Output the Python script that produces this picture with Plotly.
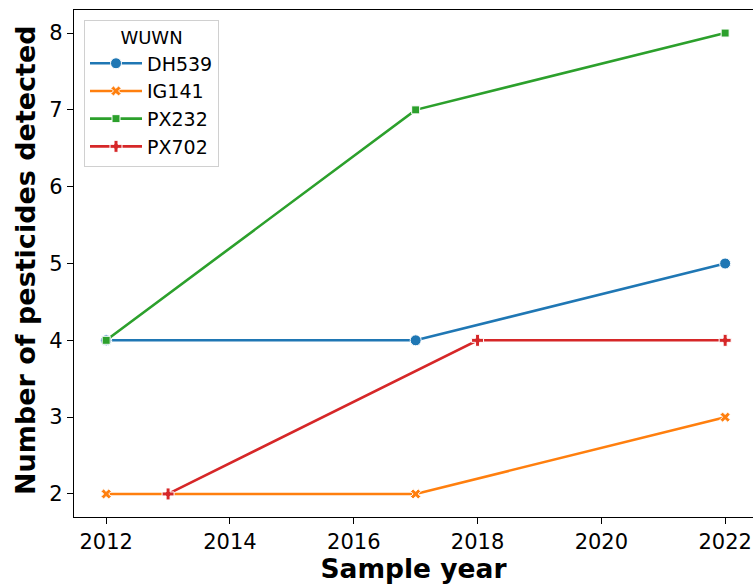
import plotly.graph_objects as go

series_names = ["DH539", "IG141", "PX232", "PX702"]
years = {
    "DH539": [2012, 2017, 2022],
    "IG141": [2012, 2017, 2022],
    "PX232": [2012, 2017, 2022],
    "PX702": [2013, 2018, 2022],
}
counts = {
    "DH539": [4, 4, 5],
    "IG141": [2, 2, 3],
    "PX232": [4, 7, 8],
    "PX702": [2, 4, 4],
}
x_ticks = [2012, 2014, 2016, 2018, 2020, 2022]
y_ticks = [2, 3, 4, 5, 6, 7, 8]
colors = ["#1f77b4", "#ff7f0e", "#2ca02c", "#d62728"]
symbols = ["circle", "x", "square", "cross"]
sizes = [11, 9, 8, 10]

fig = go.Figure()
for name, c, s, sz in zip(series_names, colors, symbols, sizes):
    fig.add_trace(go.Scatter(
        x=years[name], y=counts[name], name=name, mode="lines+markers",
        line=dict(color=c, width=2.6),
        marker=dict(symbol=s, size=sz, color=c, line=dict(color="white", width=1)),
    ))

font = "DejaVu Sans"
W, H = 753, 584
ML, MR, MT, MB = 74, 0, 10, 67
pw, ph = W - ML - MR, H - MT - MB

fig.update_layout(
    width=W, height=H,
    margin=dict(l=ML, r=MR, t=MT, b=MB),
    paper_bgcolor="white", plot_bgcolor="white",
    font=dict(family=font, size=21, color="black"),
    showlegend=True,
    legend=dict(
        title=dict(text="WUWN", font=dict(size=18), side="top center"),
        font=dict(size=19),
        x=(84 - ML) / pw, y=1 - (20 - MT) / ph, xanchor="left", yanchor="top",
        bordercolor="#d0d0d0", borderwidth=1, bgcolor="rgba(255,255,255,0.8)",
        tracegroupgap=0, itemwidth=52,
    ),
    xaxis=dict(
        range=[2011.48, 2022.45], tickvals=x_ticks,
        showgrid=False, zeroline=False, showline=True, linecolor="black", linewidth=1.2,
        mirror=True, ticks="outside", ticklen=6, tickcolor="black",
        tickfont=dict(size=21), automargin=False,
        title=dict(text="<b>Sample year</b>", font=dict(size=26.5)),
    ),
    yaxis=dict(
        range=[1.7, 8.3], tickvals=y_ticks,
        showgrid=False, zeroline=False, showline=True, linecolor="black", linewidth=1.2,
        ticks="outside", ticklen=6, tickcolor="black",
        tickfont=dict(size=21), automargin=False,
    ),
    annotations=[dict(
        text="<b>Number of pesticides detected</b>", textangle=-90,
        xref="paper", yref="paper", x=(25 - ML) / pw, y=(H - MB - 260) / ph,
        xanchor="center", yanchor="middle", showarrow=False,
        font=dict(size=27, family=font, color="black"),
    )],
)

fig.write_html("out.html", config={"displayModeBar": False},
               post_script="document.body.style.margin='0';")
